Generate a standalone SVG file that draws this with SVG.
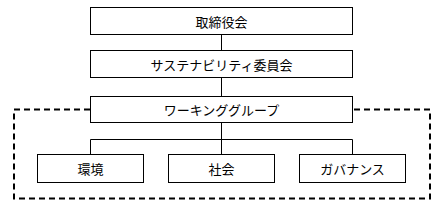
<svg xmlns="http://www.w3.org/2000/svg" width="445" height="204" viewBox="0 0 445 204">
<style>
.box{fill:#fff;stroke:#000;stroke-width:1}
.lbl{font-family:"Noto Sans CJK JP","Noto Sans",sans-serif;font-size:13px;fill:#000;text-anchor:middle;dominant-baseline:central}
.ln{stroke:#000;stroke-width:1;fill:none}
</style>
<rect width="445" height="204" fill="#fff"/>
<rect id="wg-area" x="14" y="109.5" width="416" height="89" fill="none" stroke="#000" stroke-width="2" stroke-dasharray="6,4"/>
<g id="connectors">
<line class="ln" x1="221.5" y1="34" x2="221.5" y2="50"/>
<line class="ln" x1="221.5" y1="77" x2="221.5" y2="97"/>
<line class="ln" x1="221.5" y1="122" x2="221.5" y2="154"/>
<polyline class="ln" points="90.5,154 90.5,139.5 352.5,139.5 352.5,154"/>
</g>
<g id="board"><rect class="box" x="90.5" y="7.5" width="262" height="27"/><text class="lbl" x="221.5" y="21">取締役会</text></g>
<g id="committee"><rect class="box" x="90.5" y="50.5" width="262" height="27"/><text class="lbl" x="221.5" y="64">サステナビリティ委員会</text></g>
<g id="wg"><rect class="box" x="90.5" y="96.5" width="262" height="26"/><text class="lbl" x="221.5" y="109.5">ワーキンググループ</text></g>
<g id="env"><rect class="box" x="37.5" y="154.5" width="106" height="28"/><text class="lbl" x="90.5" y="168.5">環境</text></g>
<g id="soc"><rect class="box" x="168.5" y="154.5" width="106" height="28"/><text class="lbl" x="221.5" y="168.5">社会</text></g>
<g id="gov"><rect class="box" x="299.5" y="154.5" width="106" height="28"/><text class="lbl" x="352.5" y="168.5">ガバナンス</text></g>
</svg>
